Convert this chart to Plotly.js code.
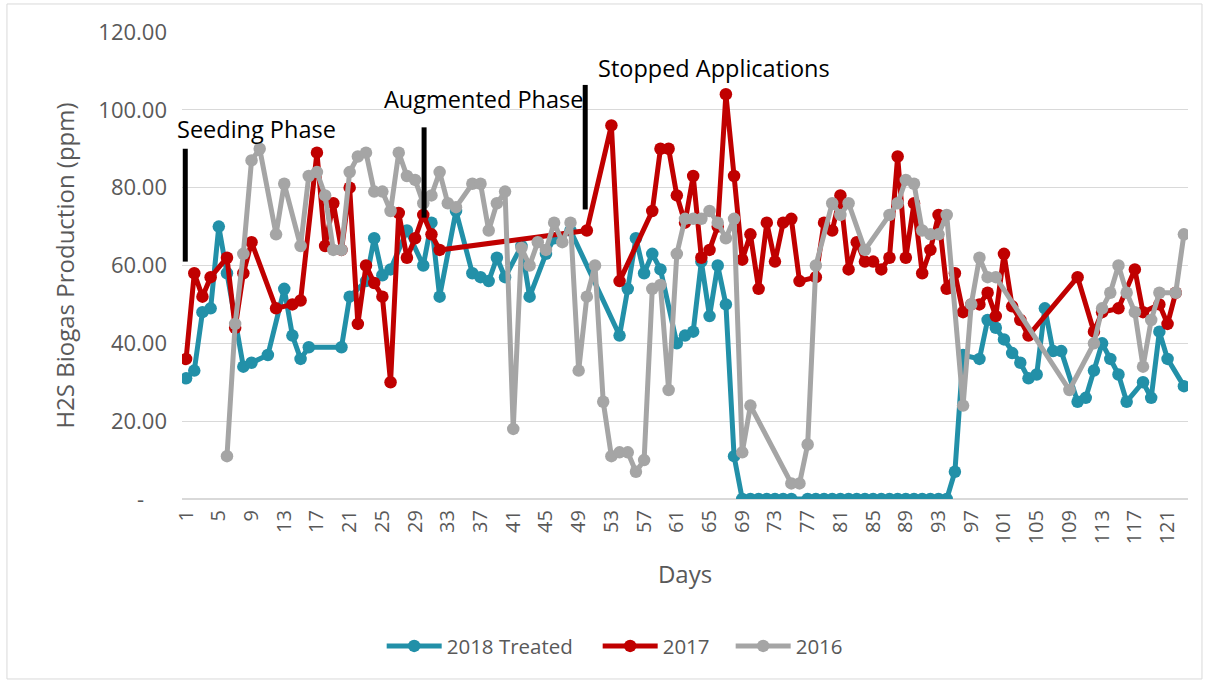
<!DOCTYPE html>
<html>
<head>
<meta charset="utf-8">
<script src="https://cdn.plot.ly/plotly-3.0.1.min.js"></script>
<style>html,body{margin:0;padding:0;background:#fff;}#chart{width:1207px;height:683px;}</style>
</head>
<body>
<div id="chart"></div>
<script>
// Days 1..123
const days = Array.from({length: 123}, (_, i) => i + 1);
const tickDays = [1,5,9,13,17,21,25,29,33,37,41,45,49,53,57,61,65,69,73,77,81,85,89,93,97,101,105,109,113,117,121];
const yTickVals = [0,20,40,60,80,100,120];
const yTickText = ['-\u00a0\u00a0\u00a0\u00a0','20.00','40.00','60.00','80.00','100.00','120.00'];

const treated2018 = [
  31,33,48,49,70,58,null,34,35,null,
  37,null,54,42,36,39,null,null,null,39,
  52,null,56,67,57.5,59,null,69,null,60,
  71,52,null,74,null,58,57,56,62,57,
  null,65,52,null,63,67,null,69,null,null,
  null,null,null,42,54,67,58,63,59,null,
  40,42,43,61,47,60,50,11,0,0,
  0,0,0,0,0,null,0,0,0,0,
  0,0,0,0,0,0,0,0,0,0,
  0,0,0,0,7,37,null,36,46,44,
  41,37.5,35,31,32,49,38,38,null,25,
  26,33,40,36,32,25,null,30,26,43,
  36,null,29
];
const y2017 = [
  36,58,52,57,null,62,44,58,66,null,
  null,49,null,50,51,null,89,65,76,64,
  80,45,60,55.5,52,30,73.5,62,67,73,
  68,64,null,null,null,null,null,null,null,null,
  null,null,null,null,null,null,null,null,null,69,
  null,null,96,56,null,null,null,74,90,90,
  78,71,83,62,64,70,104,83,61.5,68,
  54,71,61,71,72,56,null,57,71,69,
  78,59,66,61,61,59,62,88,62,76,
  58,64,73,54,58,48,50,50,53,47,
  63,49.5,46,42,null,null,null,null,null,57,
  null,43,48,null,49,null,59,48,null,50,
  45,53,null
];
const y2016 = [
  null,null,null,null,null,11,45,63,87,90,
  null,68,81,null,65,83,84,78,64,64,
  84,88,89,79,79,74,89,83,82,76,
  78,84,76,75,null,81,81,69,76,79,
  18,64.5,60,66,64,71,66,71,33,52,
  60,25,11,12,12,7,10,54,55,28,
  63,72,72,72,74,71,67,72,12,24,
  null,null,null,null,4,4,14,60,null,76,
  73,76,null,64,null,null,73,76,82,81,
  69,68,68,73,null,24,50,62,57,57,
  null,null,null,null,null,null,null,null,28,null,
  null,40,49,53,60,53,48,34,46,53,
  null,53,68
];

const seriesNames = ['2018 Treated', '2017', '2016'];
const seriesColors = ['#2290A8', '#C00000', '#A5A5A5'];
const legendIds = ['legend', 'legend2', 'legend3'];
const legendX = [0.1985, 0.4132, 0.5454];

// Phase annotations (label x in paper fraction, y in data units)
const phaseLabels = ['Seeding Phase', 'Augmented Phase', 'Stopped Applications'];
const phaseLabelX = [-0.007, 0.199, 0.412];
const phaseLabelVal = [95.2, 102.8, 110.8];
const phaseBarDay = [0.9, 30.1, 49.8];
const phaseBarTop = [90, 95.5, 106.4];
const phaseBarBottom = [61, 72.3, 74.4];

const FONT = 'Open Sans, Noto Sans, sans-serif';
const allY = [treated2018, y2017, y2016];
const traces = allY.map((ys, i) => ({
  type: 'scatter', mode: 'lines+markers', name: seriesNames[i],
  x: days, y: ys, connectgaps: true, legend: legendIds[i],
  line: {color: seriesColors[i], width: 5},
  marker: {color: seriesColors[i], size: 12.5}
}));

const shapes = phaseBarDay.map((d, i) => ({
  type: 'line', xref: 'x', yref: 'y', x0: d, x1: d, y0: phaseBarBottom[i], y1: phaseBarTop[i],
  line: {color: '#000', width: 5}
}));
shapes.push({type: 'rect', xref: 'paper', yref: 'paper', x0: -0.174, x1: 1.0139, y0: -0.3854, y1: 1.06,
  line: {color: '#d9d9d9', width: 1}, fillcolor: 'rgba(0,0,0,0)'});

const annotations = phaseLabels.map((t, i) => ({
  text: t, xref: 'paper', yref: 'y', x: phaseLabelX[i], y: phaseLabelVal[i],
  xanchor: 'left', yanchor: 'middle', showarrow: false,
  font: {family: FONT, size: 23.5, color: '#000'}
}));

const layout = {
  width: 1207, height: 683,
  margin: {l: 182, r: 19, t: 32, b: 184},
  paper_bgcolor: '#fff', plot_bgcolor: '#fff',
  font: {family: FONT, color: '#595959', size: 19},
  showlegend: true,
  xaxis: {
    type: 'linear', range: [0.5, 123.5], tickmode: 'array', tickvals: tickDays,
    ticktext: tickDays.map(String), tickangle: -90, showgrid: false, zeroline: false,
    showline: false, ticks: '', ticklabelstandoff: 6,
    tickfont: {family: FONT, size: 20, color: '#595959'},
    title: {text: 'Days', font: {family: FONT, size: 24, color: '#595959'}, standoff: 22}
  },
  yaxis: {
    range: [0, 120], tickmode: 'array', tickvals: yTickVals, ticktext: yTickText,
    showgrid: true, gridcolor: '#d9d9d9', gridwidth: 1.3, zeroline: true, zerolinecolor: '#d9d9d9', zerolinewidth: 1.3,
    showline: false, ticks: '', ticklabelstandoff: 14,
    tickfont: {family: FONT, size: 22, color: '#595959'},
    title: {text: 'H2S Biogas Production (ppm)', font: {family: FONT, size: 24, color: '#595959'}, standoff: 16}
  },
  shapes: shapes,
  annotations: annotations
};
legendIds.forEach((id, i) => {
  layout[id] = {orientation: 'h', x: legendX[i], xanchor: 'left', y: -0.315, yanchor: 'middle',
    itemwidth: 55, bgcolor: 'rgba(0,0,0,0)',
    font: {family: FONT, size: 20.5, color: '#595959'}};
});

Plotly.newPlot('chart', traces, layout, {displayModeBar: false, staticPlot: true});
</script>
</body>
</html>
